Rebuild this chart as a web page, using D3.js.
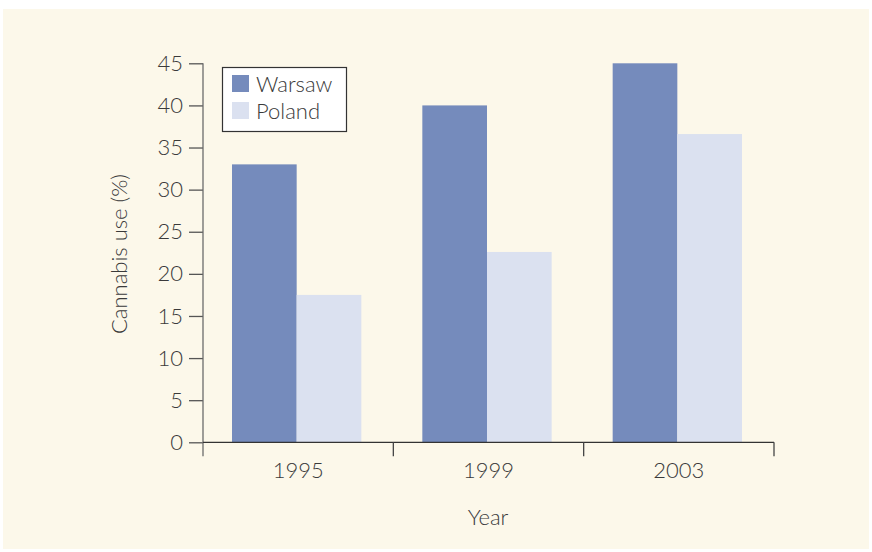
<!DOCTYPE html>
<html><head><meta charset="utf-8">
<script src="https://cdn.jsdelivr.net/npm/d3@7"></script>
<style>
html,body{margin:0;padding:0;background:#fff;}
svg{display:block;}
text{font-family:"Lato","Open Sans",sans-serif;font-weight:300;fill:#3a3a3a;}
</style></head>
<body>
<script>
const years = ["1995", "1999", "2003"];
const seriesNames = ["Warsaw", "Poland"];
const warsaw = [33, 40, 45];
const poland = [17.5, 22.6, 36.6];
const yTicks = [0, 5, 10, 15, 20, 25, 30, 35, 40, 45];
const colors = ["#758bbc", "#dbe1f0"];

const W = 872, H = 552;
const svg = d3.select("body").append("svg").attr("width", W).attr("height", H);
svg.append("rect").attr("x", 3).attr("y", 9).attr("width", 866).attr("height", 540).attr("fill", "#fcf8ea");

const x0 = 203, x1 = 774, yTop = 63.3, yBot = 442.3;
const x = d3.scaleBand().domain(years).range([x0, x1]).paddingInner(0).paddingOuter(0);
const y = d3.scaleLinear().domain([0, 45]).range([yBot, yTop]);
const inner = d3.scaleBand().domain(seriesNames).range([29, x.bandwidth() - 32]);

const data = [warsaw, poland];
seriesNames.forEach((s, si) => {
  svg.append("g").selectAll("rect").data(years).join("rect")
    .attr("x", d => x(d) + inner(s))
    .attr("width", inner.bandwidth())
    .attr("y", (d, i) => y(data[si][i]))
    .attr("height", (d, i) => yBot - y(data[si][i]))
    .attr("fill", colors[si]);
});

// Y axis
const yAxis = svg.append("g").attr("transform", `translate(${x0},0)`)
  .call(d3.axisLeft(y).tickValues(yTicks).tickSize(14).tickPadding(6));
yAxis.select(".domain").remove();
yAxis.append("line").attr("x1", 0).attr("x2", 0).attr("y1", yTop).attr("y2", yBot + 14).attr("stroke", "#6b6b6b").attr("stroke-width", 1.3);
yAxis.selectAll(".tick line").attr("stroke", "#555").attr("stroke-width", 1.3);
yAxis.selectAll(".tick text").attr("font-size", 22).attr("fill", "#3a3a3a").style("font-family", "Lato, 'Open Sans', sans-serif").style("font-weight", 300);

// X axis
const xg = svg.append("g");
xg.append("line").attr("x1", x0).attr("x2", x1).attr("y1", yBot).attr("y2", yBot).attr("stroke", "#333").attr("stroke-width", 1.3);
const bounds = years.map(d => x(d)).concat([x1]);
xg.selectAll("line.sep").data(bounds.slice(1)).join("line").attr("class", "sep")
  .attr("x1", d => d).attr("x2", d => d).attr("y1", yBot).attr("y2", yBot + 14)
  .attr("stroke", "#444").attr("stroke-width", 1.3);
xg.selectAll("text").data(years).join("text")
  .attr("x", d => x(d) + x.bandwidth() / 2).attr("y", 478)
  .attr("text-anchor", "middle").attr("font-size", 22).text(d => d);

// Axis titles
svg.append("text").attr("x", 488).attr("y", 525).attr("text-anchor", "middle").attr("font-size", 22).text("Year");
svg.append("text").attr("transform", "translate(127,254) rotate(-90)").attr("text-anchor", "middle").attr("font-size", 22).text("Cannabis use (%)");

// Legend
const lg = svg.append("g");
lg.append("rect").attr("x", 222.5).attr("y", 67.5).attr("width", 124).attr("height", 64).attr("fill", "#fff").attr("stroke", "#333").attr("stroke-width", 1.2);
seriesNames.forEach((s, i) => {
  lg.append("rect").attr("x", 232).attr("y", 75 + i * 27).attr("width", 17).attr("height", 17).attr("fill", colors[i]);
  lg.append("text").attr("x", 256).attr("y", 91.5 + i * 27).attr("font-size", 22).text(s);
});
</script>
</body></html>
